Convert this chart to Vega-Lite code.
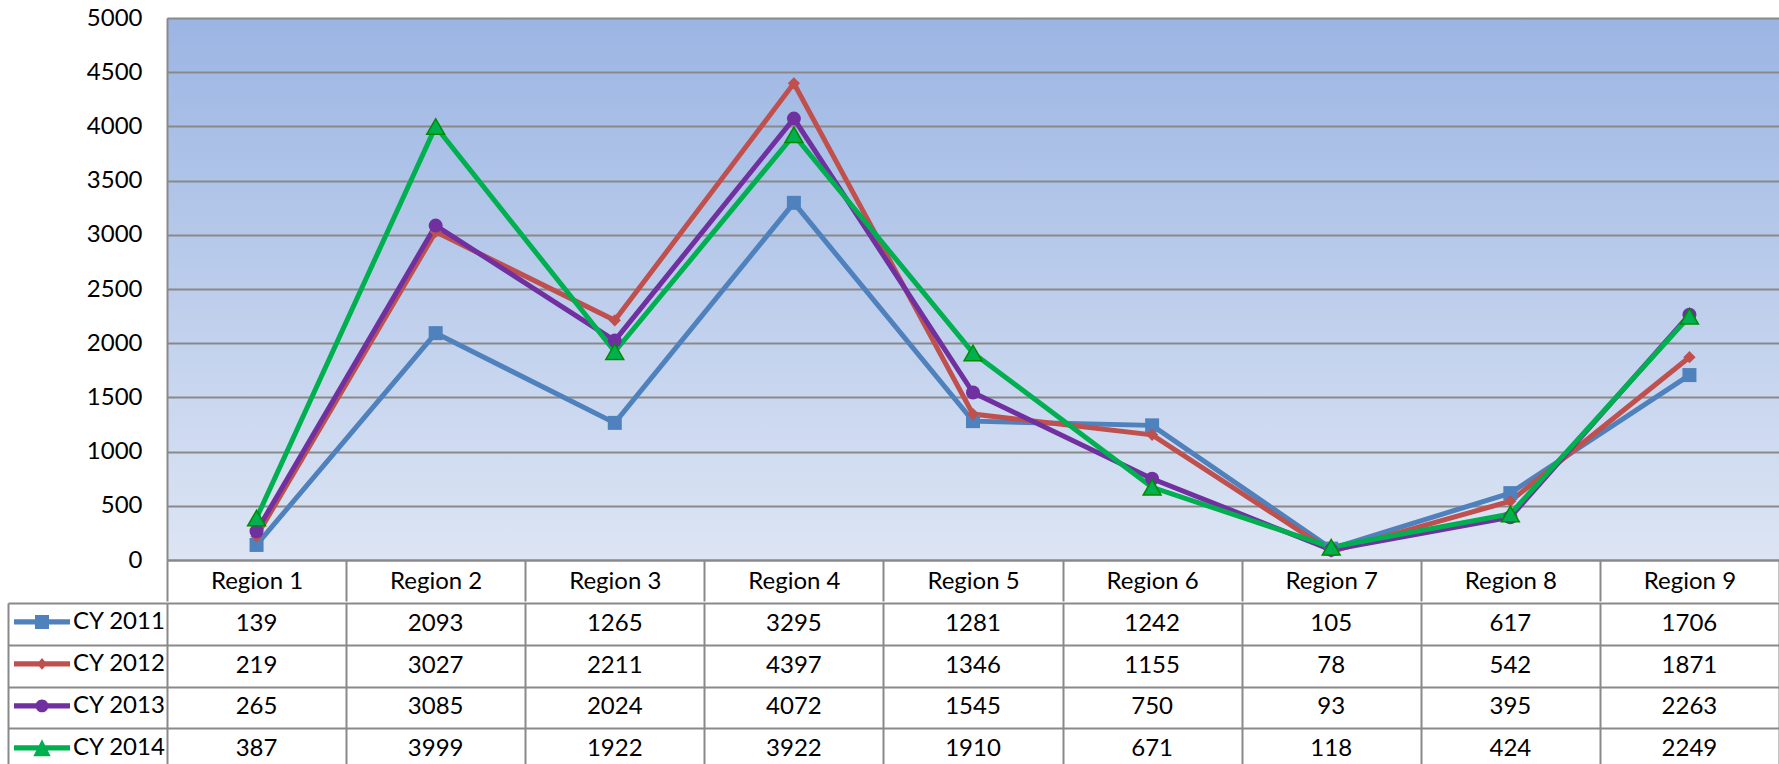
{
  "$schema": "https://vega.github.io/schema/vega-lite/v6.json",
  "padding": {"left": 7, "top": 6, "right": 0, "bottom": 0},
  "spacing": 0,
  "config": {
    "font": "Lato",
    "view": {"stroke": null},
    "axis": {"labelFont": "Lato", "labelColor": "#000000"},
    "legend": {"labelFont": "Lato"}
  },
  "data": {
    "values": [
      {"region": "Region 1", "series": "CY 2011", "value": 139},
      {"region": "Region 1", "series": "CY 2012", "value": 219},
      {"region": "Region 1", "series": "CY 2013", "value": 265},
      {"region": "Region 1", "series": "CY 2014", "value": 387},
      {"region": "Region 2", "series": "CY 2011", "value": 2093},
      {"region": "Region 2", "series": "CY 2012", "value": 3027},
      {"region": "Region 2", "series": "CY 2013", "value": 3085},
      {"region": "Region 2", "series": "CY 2014", "value": 3999},
      {"region": "Region 3", "series": "CY 2011", "value": 1265},
      {"region": "Region 3", "series": "CY 2012", "value": 2211},
      {"region": "Region 3", "series": "CY 2013", "value": 2024},
      {"region": "Region 3", "series": "CY 2014", "value": 1922},
      {"region": "Region 4", "series": "CY 2011", "value": 3295},
      {"region": "Region 4", "series": "CY 2012", "value": 4397},
      {"region": "Region 4", "series": "CY 2013", "value": 4072},
      {"region": "Region 4", "series": "CY 2014", "value": 3922},
      {"region": "Region 5", "series": "CY 2011", "value": 1281},
      {"region": "Region 5", "series": "CY 2012", "value": 1346},
      {"region": "Region 5", "series": "CY 2013", "value": 1545},
      {"region": "Region 5", "series": "CY 2014", "value": 1910},
      {"region": "Region 6", "series": "CY 2011", "value": 1242},
      {"region": "Region 6", "series": "CY 2012", "value": 1155},
      {"region": "Region 6", "series": "CY 2013", "value": 750},
      {"region": "Region 6", "series": "CY 2014", "value": 671},
      {"region": "Region 7", "series": "CY 2011", "value": 105},
      {"region": "Region 7", "series": "CY 2012", "value": 78},
      {"region": "Region 7", "series": "CY 2013", "value": 93},
      {"region": "Region 7", "series": "CY 2014", "value": 118},
      {"region": "Region 8", "series": "CY 2011", "value": 617},
      {"region": "Region 8", "series": "CY 2012", "value": 542},
      {"region": "Region 8", "series": "CY 2013", "value": 395},
      {"region": "Region 8", "series": "CY 2014", "value": 424},
      {"region": "Region 9", "series": "CY 2011", "value": 1706},
      {"region": "Region 9", "series": "CY 2012", "value": 1871},
      {"region": "Region 9", "series": "CY 2013", "value": 2263},
      {"region": "Region 9", "series": "CY 2014", "value": 2249}
    ]
  },
  "vconcat": [
    {
      "width": 1612,
      "height": 542,
      "view": {
        "stroke": null,
        "fill": {
          "gradient": "linear",
          "x1": 0, "y1": 0, "x2": 0, "y2": 1,
          "stops": [
            {"offset": 0, "color": "#9BB5E3"},
            {"offset": 1, "color": "#DDE5F4"}
          ]
        }
      },
      "encoding": {
        "x": {
          "field": "region", "type": "nominal", "sort": null,
          "scale": {"type": "band", "paddingInner": 0, "paddingOuter": 0},
          "axis": {
            "title": null, "orient": "bottom",
            "domain": true, "domainColor": "#898989", "domainWidth": 2,
            "ticks": true, "tickBand": "extent", "tickSize": 41, "tickColor": "#898989", "tickWidth": 2,
            "labelFontSize": 24, "labelColor": "#000000", "labelAngle": 0,
            "labelBaseline": "middle", "labelPadding": -20, "grid": false
          }
        },
        "y": {
          "field": "value", "type": "quantitative",
          "scale": {"domain": [0, 5000]},
          "axis": {
            "title": null,
            "values": [0, 500, 1000, 1500, 2000, 2500, 3000, 3500, 4000, 4500, 5000],
            "format": "d",
            "grid": true, "gridColor": "#898989", "gridWidth": 2,
            "ticks": false,
            "domain": true, "domainColor": "#898989", "domainWidth": 2,
            "labelFontSize": 24, "labelColor": "#000000", "labelPadding": 25
          }
        },
        "color": {
          "field": "series", "type": "nominal",
          "scale": {
            "domain": ["CY 2011", "CY 2012", "CY 2013", "CY 2014"],
            "range": ["#4F81BD", "#C0504D", "#7030A0", "#00B050"]
          },
          "legend": {
            "orient": "none",
            "legendX": -153,
            "legendY": 583,
            "title": null,
            "padding": 0,
            "rowPadding": 0,
            "clipHeight": 41.75,
            "symbolSize": 3136,
            "symbolStrokeWidth": 0,
            "symbolOpacity": 1,
            "labelFontSize": 24,
            "labelColor": "#000000",
            "labelOffset": 3
          }
        }
      },
      "layer": [
        {"mark": {"type": "line", "strokeWidth": 5}},
        {
          "transform": [{"filter": "datum.series === 'CY 2011'"}],
          "mark": {"type": "point", "filled": true, "opacity": 1, "shape": "square", "size": 196}
        },
        {
          "transform": [{"filter": "datum.series === 'CY 2012'"}],
          "mark": {"type": "point", "filled": true, "opacity": 1, "shape": "diamond", "size": 150}
        },
        {
          "transform": [{"filter": "datum.series === 'CY 2013'"}],
          "mark": {"type": "point", "filled": true, "opacity": 1, "shape": "circle", "size": 196}
        },
        {
          "transform": [{"filter": "datum.series === 'CY 2014'"}],
          "mark": {"type": "point", "filled": true, "opacity": 1, "shape": "triangle-up", "size": 320, "stroke": "#008C00", "strokeWidth": 1.5}
        },
        {
          "mark": {"type": "point", "filled": true, "opacity": 0},
          "encoding": {
            "shape": {
              "field": "series", "type": "nominal",
              "scale": {
                "domain": ["CY 2011", "CY 2012", "CY 2013", "CY 2014"],
                "range": [
                  "M-1,-0.09H1V0.09H-1Z M-0.25,-0.25H0.25V0.25H-0.25Z",
                  "M-1,-0.09H1V0.09H-1Z M0,-0.21L0.18,0L0,0.21L-0.18,0Z",
                  "M-1,-0.09H1V0.09H-1Z M-0.23,0A0.23,0.23 0 1 1 0.23,0A0.23,0.23 0 1 1 -0.23,0Z",
                  "M-1,-0.09H1V0.09H-1Z M0,-0.31L0.31,0.3H-0.31Z"
                ]
              }
            }
          }
        }
      ]
    },
    {
      "width": 1612,
      "height": 167,
      "mark": {"type": "text", "fontSize": 24, "color": "#000000", "font": "Lato", "baseline": "middle"},
      "encoding": {
        "x": {
          "field": "region", "type": "nominal", "sort": null,
          "scale": {"type": "band", "paddingInner": 0, "paddingOuter": 0},
          "axis": {
            "orient": "top", "title": null, "labels": false, "ticks": false, "domain": false,
            "grid": true, "tickBand": "extent", "gridColor": "#898989", "gridWidth": 2
          }
        },
        "y": {
          "field": "series", "type": "nominal",
          "sort": ["CY 2011", "CY 2012", "CY 2013", "CY 2014"],
          "scale": {"type": "band", "paddingInner": 0, "paddingOuter": 0},
          "axis": {
            "title": null, "labels": false,
            "ticks": true, "tickSize": -159, "offset": 159, "tickBand": "extent",
            "tickColor": "#898989", "tickWidth": 2,
            "domain": true, "domainColor": "#898989", "domainWidth": 2,
            "grid": true, "gridColor": "#898989", "gridWidth": 2
          }
        },
        "text": {"field": "value", "type": "quantitative", "format": "d"}
      }
    }
  ]
}
